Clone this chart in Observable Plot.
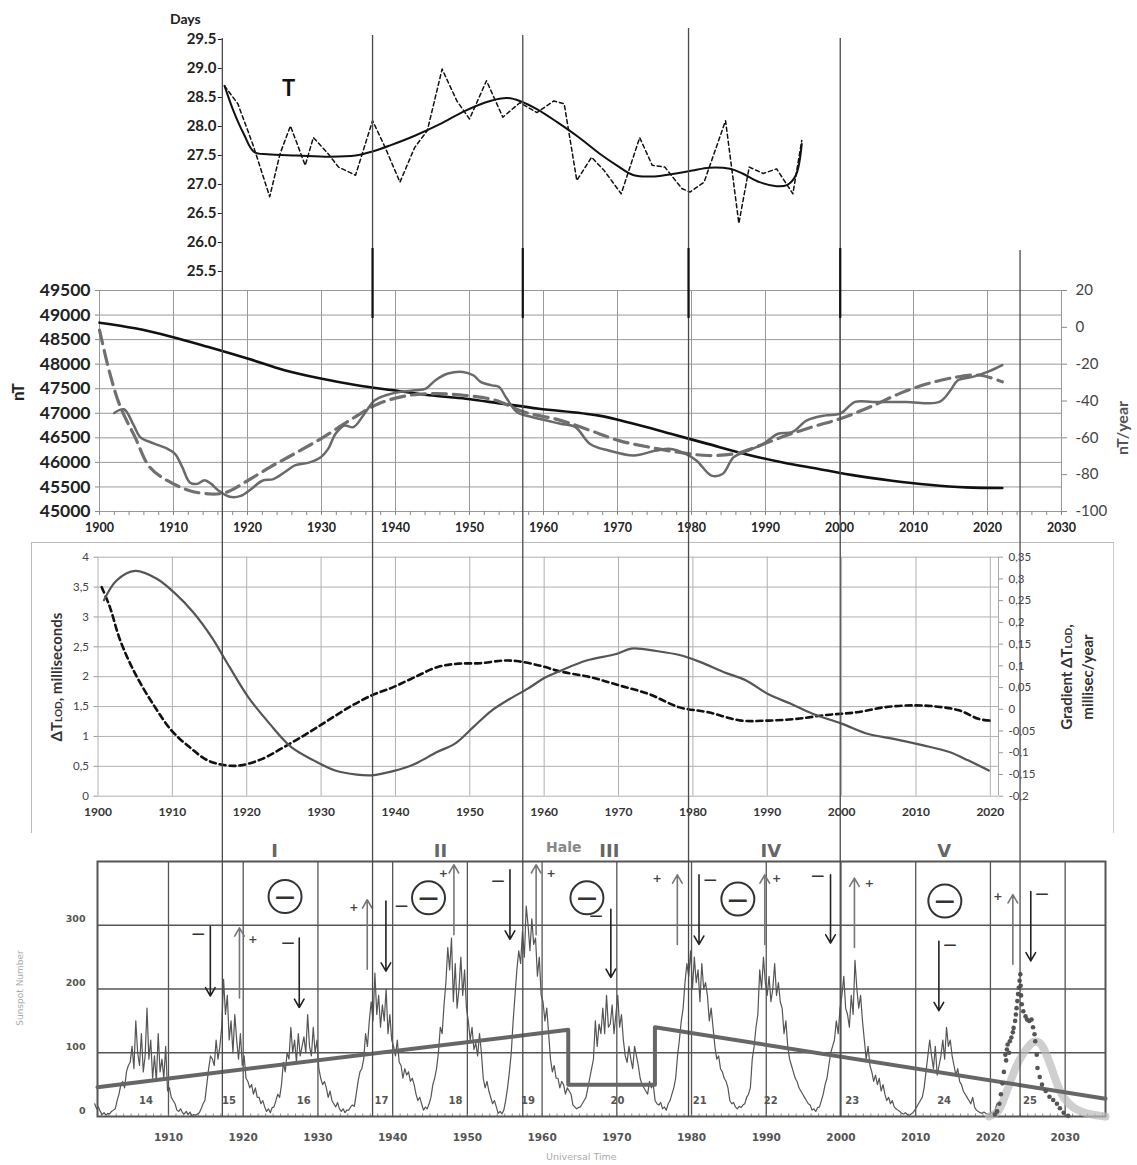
<!DOCTYPE html>
<html><head><meta charset="utf-8">
<script src="https://cdn.jsdelivr.net/npm/d3@7"></script>
<script src="https://cdn.jsdelivr.net/npm/@observablehq/plot@0.6"></script>
<style>
body{margin:0;background:#fff}
#root{position:relative;width:1137px;height:1165px;overflow:hidden;background:#fff}
#root svg{position:absolute;left:0;overflow:visible;background:transparent}
.lbl{position:absolute;white-space:nowrap;line-height:1}
.rot{transform:translate(-50%,-50%) rotate(-90deg);text-align:center}
</style></head><body><div id="root"></div>
<script>
// ---------------- DATA ----------------
// Panel 1: solar rotation period T (days)
const tSmooth = [[1916.9,28.7],[1918.1,28.27],[1919.5,27.87],[1920.9,27.56],[1922.7,27.52],[1926.7,27.5],[1931.2,27.48],[1934.6,27.5],[1936.9,27.57],[1939.2,27.67],[1942.6,27.84],[1946,28.04],[1949.4,28.27],[1952.8,28.44],[1955.1,28.49],[1956.8,28.44],[1959.1,28.3],[1961.9,28.07],[1964.8,27.81],[1967.6,27.53],[1969.9,27.33],[1972.2,27.16],[1975,27.14],[1977.9,27.19],[1980.1,27.24],[1982.4,27.29],[1985.2,27.27],[1986.9,27.19],[1989.2,27.04],[1991.5,26.97],[1992.9,26.99],[1994.1,27.16],[1994.9,27.7]];
const tAnnual = [[1916.9,28.7],[1918.7,28.39],[1920.7,27.7],[1923,26.79],[1924.4,27.53],[1925.8,28.01],[1927.8,27.33],[1928.9,27.81],[1930.9,27.53],[1932.3,27.3],[1934.6,27.16],[1936.9,28.1],[1938.6,27.64],[1940.6,27.04],[1942.6,27.64],[1944.3,27.93],[1946.3,28.99],[1948.3,28.44],[1950,28.13],[1952.3,28.79],[1954.5,28.16],[1956.8,28.41],[1959.1,28.24],[1961.4,28.44],[1962.8,28.39],[1964.5,27.07],[1966.5,27.47],[1968.2,27.24],[1970.5,26.84],[1973,27.81],[1974.7,27.33],[1976.4,27.3],[1978.7,26.93],[1979.8,26.87],[1981.7,27.04],[1984.6,28.1],[1986.4,26.33],[1987.8,27.3],[1989.7,27.19],[1991.5,27.27],[1993.7,26.84],[1994.9,27.76]];
const tTicks = [25.5,26.0,26.5,27.0,27.5,28.0,28.5,29.0,29.5];

// Panel 2: geomagnetic field (nT) and its gradient (nT/year)
const fieldNT = [[1900,48845],[1904.8,48730],[1909.7,48560],[1914.6,48355],[1920,48115],[1925,47877],[1929.9,47707],[1934.8,47570],[1939.7,47468],[1944.6,47366],[1949.5,47297],[1954.4,47195],[1959.4,47093],[1967.3,46957],[1972.2,46786],[1977.2,46582],[1982.2,46377],[1987.2,46173],[1992.2,46002],[1997.2,45866],[2002.2,45730],[2007.1,45627],[2012.1,45545],[2017.1,45491],[2022,45477]];
const gradObs = [[1902,-46.5],[1903.3,-44.5],[1904.6,-53],[1905.5,-59.6],[1907.3,-63],[1909.2,-66],[1910.2,-68.7],[1911.2,-76],[1912.2,-84.2],[1913.2,-85],[1914.2,-83],[1915.1,-85],[1916.1,-88.7],[1917.6,-92],[1919.1,-91.5],[1920.5,-87.8],[1922,-83.3],[1923.5,-82.4],[1925,-78.7],[1926.4,-75],[1928.4,-73.3],[1929.9,-70.5],[1930.9,-66],[1931.9,-57.8],[1933.1,-53.3],[1934.3,-54.2],[1935.8,-46.9],[1937.2,-39.6],[1938.7,-36.9],[1940.7,-35],[1942.7,-34.2],[1944.1,-33.3],[1945.4,-28.7],[1947.1,-25.1],[1949.1,-24.2],[1950.5,-26],[1951.5,-29.6],[1953,-31.5],[1954,-32.4],[1954.9,-37.8],[1956.4,-46],[1958.4,-48.7],[1960.3,-50.5],[1962.3,-52.4],[1964.3,-54.2],[1966.3,-63.3],[1968.8,-66.9],[1972.2,-69.6],[1975.2,-66.9],[1977.2,-66],[1979.2,-68.7],[1980.7,-72.4],[1982.7,-80.5],[1984.2,-79.6],[1985.7,-70.5],[1987.7,-66.9],[1989.7,-63.3],[1991.7,-57.8],[1993.6,-56.9],[1995.6,-50.5],[1998.1,-47.8],[2000.1,-46.9],[2002.1,-40.5],[2004.5,-40.5],[2009,-40.5],[2013.5,-40.5],[2015,-34.2],[2016,-28.7],[2018,-26.9],[2020,-24.2],[2022,-20.5]];
const gradFit = [[1900,-1.5],[1901.4,-25],[1902.8,-43],[1904.8,-59.6],[1906.8,-76],[1909.2,-83.3],[1912.2,-88.7],[1915.1,-90.5],[1917.1,-89.6],[1920,-83.3],[1923,-76],[1925.9,-69.6],[1929.9,-60.5],[1933.8,-50.5],[1937.7,-41.5],[1941.7,-37],[1945.6,-36],[1949.5,-37],[1953.5,-39.6],[1957.4,-46],[1962.3,-50.5],[1966.3,-56],[1970.2,-61.5],[1974.2,-65],[1978.2,-67.8],[1982.2,-69.6],[1985.7,-68.7],[1988.7,-65],[1992.2,-59.6],[1996.2,-54.2],[2000.1,-49.6],[2004.1,-43.3],[2008.1,-36],[2012,-30.5],[2016,-26.9],[2019,-26],[2022,-29.6]];
const ntTicks = [45000,45500,46000,46500,47000,47500,48000,48500,49000,49500];
const ntYearTicks = [-100,-80,-60,-40,-20,0,20];

// Panel 3: length of day
const lod = [[1900.8,3.28],[1902.5,3.61],[1905,3.77],[1907.9,3.64],[1910.4,3.39],[1912.8,3.08],[1915.3,2.66],[1917.7,2.16],[1920.2,1.66],[1923.1,1.21],[1926,0.82],[1929,0.6],[1931.9,0.43],[1934.8,0.36],[1936.8,0.35],[1939.7,0.42],[1942.6,0.54],[1945.6,0.74],[1948,0.88],[1950.5,1.16],[1952.9,1.43],[1955.4,1.63],[1957.8,1.8],[1960.2,1.99],[1962.2,2.1],[1965.7,2.27],[1969.7,2.38],[1971.7,2.47],[1975.1,2.43],[1978.6,2.35],[1981.1,2.24],[1984.1,2.08],[1987.1,1.94],[1990.1,1.71],[1993.1,1.55],[1996.1,1.38],[2000.1,1.21],[2003.6,1.04],[2007,0.96],[2011,0.85],[2014.5,0.74],[2017,0.6],[2019.8,0.43]];
const lodGradient = [[1900.5,0.281],[1901.6,0.235],[1903,0.158],[1905,0.082],[1907.4,0.012],[1909.9,-0.049],[1912.3,-0.087],[1914.8,-0.118],[1917.2,-0.129],[1919.2,-0.129],[1922.1,-0.114],[1925,-0.087],[1928,-0.057],[1930.9,-0.026],[1933.8,0.005],[1936.8,0.032],[1939.7,0.051],[1942.6,0.074],[1945.6,0.097],[1948.5,0.105],[1951.4,0.106],[1954.4,0.112],[1956.3,0.111],[1959.3,0.101],[1962.2,0.087],[1966.2,0.074],[1970.1,0.055],[1974.1,0.035],[1978.1,0.005],[1982.1,-0.007],[1986.5,-0.026],[1990.1,-0.026],[1994,-0.022],[1998,-0.013],[2002,-0.007],[2005.9,0.005],[2009.9,0.009],[2012.9,0.006],[2015.9,-0.003],[2018.4,-0.022],[2019.9,-0.026]];
const lodTicks = [0,0.5,1,1.5,2,2.5,3,3.5,4];
const lodGradTicks = [-0.2,-0.15,-0.1,-0.05,0,0.05,0.1,0.15,0.2,0.25,0.3,0.35];

// Panel 4: sunspot number, quarterly values from 1900.0
const sunspotStart = 1900;
const sunspotQuarterly = [
20,12,15,8, 3,6,2,5, 4,8,10,12, 25,35,50,55, 45,70,80,85, 110,75,150,100, 80,130,70,95, 170,90,120,60, 95,55,130,70, 90,60,110,40,
45,30,25,20, 10,8,12,6, 4,8,3,7, 1,3,2,4, 6,12,20,25, 50,75,95,90, 80,120,90,110, 140,215,160,190, 120,150,100,160, 120,90,130,80,
95,60,55,45, 50,35,45,30, 30,20,25,15, 8,12,6,14, 15,25,35,30, 50,85,70,100, 90,140,100,120, 85,130,95,110, 125,100,160,110, 95,140,100,120,
75,60,50,55, 45,30,40,25, 20,15,22,12, 8,12,6,10, 10,15,18,16, 35,55,70,75, 90,130,110,150, 180,150,225,160, 190,140,175,150, 200,130,160,120,
110,95,120,85, 80,60,75,65, 70,55,60,50, 35,25,30,20, 10,15,12,20, 30,50,60,75, 100,140,130,175, 210,265,230,280, 180,240,170,200, 250,190,230,170,
150,120,140,105, 115,95,130,100, 60,45,55,40, 30,20,25,15, 5,8,4,10, 25,45,70,100, 150,190,230,260, 240,290,250,330, 300,260,310,270, 280,220,250,190,
180,150,170,130, 90,70,80,60, 60,45,55,50, 35,45,40,35, 18,15,12,14, 15,20,25,30, 45,60,75,90, 150,110,145,130, 170,130,190,140, 145,175,130,160,
190,140,160,120, 95,85,110,90, 75,110,95,80, 60,50,45,40, 35,55,45,50, 25,20,18,22, 12,15,10,20, 25,35,45,60, 95,120,150,170, 210,240,220,260,
200,250,210,230, 180,240,200,210, 190,150,170,140, 110,90,95,75, 70,60,55,45, 25,20,22,15, 12,16,14,18, 20,30,35,45, 90,110,140,160, 230,200,250,210,
190,220,180,200, 240,190,210,180, 170,130,150,110, 90,80,70,60, 55,45,40,35, 30,25,20,18, 10,12,8,14, 15,25,35,50, 60,80,100,110, 120,150,130,170,
190,220,170,160, 140,190,160,245, 200,170,190,150, 120,90,110,80, 70,55,65,50, 60,40,50,35, 25,30,20,25, 15,12,10,8, 5,4,6,3, 2,4,6,10,
15,20,25,30, 45,70,95,120, 95,75,110,65, 80,95,120,90, 140,110,120,95, 80,65,75,55, 50,40,35,30, 25,20,30,15, 10,8,6,5, 7,5,4,3,
6,5,10,20
];
const cycle25Dots = [[2020.6,3],[2020.9,8],[2021.2,20],[2021.4,35],[2021.6,52],[2021.8,70],[2022.0,97],[2022.1,88],[2022.2,105],[2022.3,113],[2022.5,100],[2022.6,118],[2022.8,124],[2023.0,132],[2023.1,139],[2023.3,150],[2023.4,160],[2023.5,170],[2023.6,181],[2023.7,192],[2023.8,202],[2023.9,213],[2024.0,223],[2024.05,205],[2024.1,190],[2024.2,176],[2024.4,165],[2024.7,157],[2024.9,152],[2025.2,150],[2025.5,152],[2025.7,140],[2025.9,129],[2026.0,118],[2026.2,97],[2026.3,76],[2026.6,62],[2026.9,50],[2027.4,40],[2027.9,31],[2028.4,26],[2028.9,20],[2029.3,13],[2029.8,6],[2030.4,1]];
const cycle25Forecast = [[2019.8,0],[2021,8],[2022.2,40],[2023.6,82],[2024.9,107],[2025.8,117],[2026.5,116],[2027.1,107],[2028,82],[2028.9,52],[2029.8,30],[2031.1,14],[2032.9,5],[2035.4,0]];
const trendLine = [[1900.5,46],[1963.5,136],[1963.5,50],[1975.1,50],[1975.1,140],[2035.4,28]];
const cycleNumbers = [[1907.0,"14"],[1918.1,"15"],[1928.1,"16"],[1938.5,"17"],[1948.4,"18"],[1958.1,"19"],[1970.1,"20"],[1981.1,"21"],[1990.6,"22"],[2001.5,"23"],[2013.8,"24"],[2025.3,"25"]];
const halePeriods = [[1924.2,"I"],[1946.4,"II"],[1969.0,"III"],[1990.6,"IV"],[2013.8,"V"]];
const haleWord = [[1962.9,"Hale"]];
const minusCircles = [[1925.6,345],[1944.8,343],[1966.0,343],[1986.2,341],[2013.9,338]];
// polarity arrows: [year, from, to]
const downArrows = [[1915.6,298,189],[1927.5,280,171],[1939.1,338,228],[1955.7,387,278],[1969.2,325,218],[1981.0,379,270],[1998.6,379,272],[2013.1,275,166],[2025.4,353,244]];
const upArrows = [[1919.5,186,296],[1936.6,231,340],[1948.2,285,395],[1959.2,285,395],[1978.1,270,379],[1989.8,270,379],[2001.8,265,374],[2023.0,239,348]];
const minusSigns = [[1914.0,286],[1926.0,272],[1941.2,330],[1954.1,369],[1967.2,314],[1982.5,371],[1996.9,377],[2014.6,270],[2026.9,350]];
const plusSigns = [[1921.3,278],[1934.8,328],[1946.8,382],[1961.2,382],[1975.4,374],[1991.4,374],[2003.8,366],[2021.0,345]];
const yearTicks = [1900,1910,1920,1930,1940,1950,1960,1970,1980,1990,2000,2010,2020,2030];
const sunspotTicks = [0,100,200,300];

// Marker years (vertical lines across all panels)
const markerYears = [1916.6,1936.9,1957.2,1979.6,2000.1,2024.4];

// ---------------- LAYOUT ----------------
const W = 1137;
const root = document.getElementById("root");
const X0 = 99, PXY = 7.4; // shared x layout of top panels: 1900 at 99px, 7.4 px/yr
const mRight = W - (X0 + 130*PXY);
function place(svg, top){ svg.style.top = top + "px"; root.appendChild(svg); return svg; }
function html(text, left, top, css){ const d=document.createElement("div"); d.className="lbl"; d.innerHTML=text; d.style.left=left+"px"; d.style.top=top+"px"; Object.assign(d.style, css||{}); root.appendChild(d); return d; }
const pt = a => a.map(([x,y]) => ({x,y}));
const fmtC = v => String(Math.round(v*100)/100).replace(".", ",");

// ---------------- PANEL 1: T ----------------
const tStart = 1916.6;
place(Plot.plot({
  width: W, height: 290, marginTop: 39, marginBottom: 19,
  marginLeft: X0 + (tStart-1900)*PXY, marginRight: mRight,
  style: {fontFamily: "Lato", background: "transparent"},
  x: {domain: [tStart, 2030], axis: null},
  y: {domain: [25.5, 29.5]},
  marks: [
    Plot.axisY(tTicks, {anchor: "left", tickSize: 4, tickPadding: 2, fontSize: 15, fontWeight: "bold", fill: "#222", stroke: "#222", tickFormat: d => d.toFixed(1), label: null}),
    Plot.line(pt(tAnnual), {x: "x", y: "y", stroke: "#111", strokeWidth: 1.5, strokeDasharray: "4,3"}),
    Plot.line(pt(tSmooth), {x: "x", y: "y", stroke: "#111", strokeWidth: 2, curve: "catmull-rom"})
  ]
}), 0);
html("Days", 170, 10, {font: "bold 14px Lato", color: "#222"});
html("T", 282, 74, {font: "bold 22px Lato", color: "#111"});

// ---------------- PANEL 2: nT ----------------
const toNT = r => 45000 + (r + 100) / 120 * 4500;
const fromNT = v => (v - 45000) / 4500 * 120 - 100;
place(Plot.plot({
  width: W, height: 270, marginTop: 10, marginBottom: 39, marginLeft: X0, marginRight: mRight,
  style: {fontFamily: "Lato", background: "transparent"},
  x: {domain: [1900, 2030]},
  y: {domain: [45000, 49500]},
  marks: [
    Plot.gridX(yearTicks, {stroke: "#999", strokeOpacity: 1}),
    Plot.gridY(ntTicks, {stroke: "#999", strokeOpacity: 1}),
    Plot.axisX(d3.range(1900, 2031, 2), {tickSize: 4, tickFormat: () => "", stroke: "#888", label: null}),
    Plot.axisX(yearTicks, {tickSize: 0, tickPadding: 12, fontSize: 12.5, fontWeight: "bold", fill: "#222", tickFormat: d => String(d), label: null}),
    Plot.axisY(ntTicks, {anchor: "left", tickSize: 4, tickPadding: 5, fontSize: 17.5, fontWeight: "bold", fill: "#222", stroke: "#888", tickFormat: d => String(d), label: null}),
    Plot.axisY(ntYearTicks.map(toNT), {anchor: "right", tickSize: 5, tickPadding: 9, fontSize: 15, fill: "#444", stroke: "#888", tickFormat: d => String(Math.round(fromNT(d))), label: null}),
    Plot.text(["nT"], {frameAnchor: "left", rotate: -90, dx: -81, fontSize: 17, fontWeight: "bold", fill: "#222"}),
    Plot.text(["nT/year"], {frameAnchor: "right", rotate: -90, dx: 61, fontSize: 16, fontWeight: "bold", fill: "#555"}),
    Plot.line(pt(fieldNT), {x: "x", y: "y", stroke: "#111", strokeWidth: 2.6, curve: "catmull-rom"}),
    Plot.line(pt(gradFit), {x: "x", y: d => toNT(d.y), stroke: "#707070", strokeWidth: 3.2, strokeDasharray: "14,7", curve: "catmull-rom"}),
    Plot.line(pt(gradObs), {x: "x", y: d => toNT(d.y), stroke: "#6a6a6a", strokeWidth: 2.5, curve: "catmull-rom"})
  ]
}), 280);

// ---------------- PANEL 3: LOD ----------------
const box = document.createElement("div");
Object.assign(box.style, {position: "absolute", left: "31px", top: "542px", width: "1081px", height: "290px", borderTop: "1px solid #bbb", borderLeft: "1px solid #bbb", borderRight: "1px solid #ccc"});
root.appendChild(box);
const gToL = g => (g + 0.2) / 0.55 * 4;
const lToG = v => v / 4 * 0.55 - 0.2;
const lodEnd = 2021.1;
place(Plot.plot({
  width: W, height: 300, marginTop: 21.7, marginBottom: 39.3, marginLeft: 97.5, marginRight: W - 998,
  style: {fontFamily: "Lato", background: "transparent"},
  x: {domain: [1900, lodEnd]},
  y: {domain: [0, 4]},
  marks: [
    Plot.gridX(yearTicks.filter(d => d <= 2020), {stroke: "#b0b0b0", strokeOpacity: 1}),
    Plot.gridY(lodTicks, {stroke: "#b0b0b0", strokeOpacity: 1}),
    Plot.ruleX([lodEnd], {stroke: "#aaa"}),
    Plot.axisX(yearTicks.filter(d => d <= 2020), {tickSize: 0, tickPadding: 11, fontSize: 12, fontWeight: "bold", fill: "#333", tickFormat: d => String(d), label: null}),
    Plot.axisY(lodTicks, {anchor: "left", tickSize: 4, tickPadding: 5, fontSize: 11.5, fill: "#444", stroke: "#999", tickFormat: fmtC, label: null}),
    Plot.axisY(lodGradTicks.map(gToL), {anchor: "right", tickSize: 4, tickPadding: 6, fontSize: 11.5, fill: "#444", stroke: "#999", tickFormat: d => fmtC(lToG(d)), label: null}),
    Plot.line(pt(lodGradient), {x: "x", y: d => gToL(d.y), stroke: "#111", strokeWidth: 2.6, strokeDasharray: "6,4", curve: "catmull-rom"}),
    Plot.line(pt(lod), {x: "x", y: "y", stroke: "#555", strokeWidth: 2.2, curve: "catmull-rom"})
  ]
}), 535);
html("ΔT<span style='font-size:10px'>LOD</span>, milliseconds", 56, 677, {font: "bold 15px Lato", color: "#333"}).classList.add("rot");
html("Gradient ΔT<span style='font-size:10px'>LOD</span>,<br>millisec/year", 1077, 677, {font: "bold 15px Lato", color: "#333", lineHeight: "19px"}).classList.add("rot");

// ---------------- PANEL 4: Sunspots ----------------
const ssFont = "DejaVu Sans";
place(Plot.plot({
  width: W, height: 330, marginTop: 26, marginBottom: 49, marginLeft: 97, marginRight: 32,
  style: {fontFamily: ssFont, background: "transparent"},
  x: {domain: [1900.5, 2035.4]},
  y: {domain: [0, 400]},
  marks: [
    Plot.gridX(yearTicks.filter(d => d >= 1910), {stroke: "#555", strokeOpacity: 1, strokeWidth: 1.3}),
    Plot.gridY([100, 200, 300], {stroke: "#555", strokeOpacity: 1, strokeWidth: 1.3}),
    Plot.ruleX(d3.range(1901, 2036, 1), {y1: 0, y2: 4, stroke: "#777", strokeWidth: 0.8}),
    Plot.frame({stroke: "#555", strokeWidth: 2}),
    Plot.axisX(yearTicks.filter(d => d >= 1910), {tickSize: 0, tickPadding: 17, fontSize: 10.5, fontWeight: "bold", fill: "#555", tickFormat: d => String(d), label: null}),
    Plot.axisY(sunspotTicks, {anchor: "left", tickSize: 0, tickPadding: 12, dy: -6, fontSize: 9.5, fontWeight: "bold", fill: "#555", tickFormat: d => String(d), label: null}),
    Plot.line(sunspotQuarterly, {x: (d, i) => sunspotStart + 0.125 + i * 0.25, y: d => d, stroke: "#555", strokeWidth: 1.2}),
    Plot.line(pt(cycle25Forecast), {x: "x", y: "y", stroke: "#bbb", strokeWidth: 8, strokeOpacity: 0.7, curve: "catmull-rom"}),
    Plot.line(pt(trendLine), {x: "x", y: "y", stroke: "#666", strokeWidth: 4}),
    Plot.dot(pt(cycle25Dots), {x: "x", y: "y", r: 2.3, fill: "#555"}),
    Plot.text(cycleNumbers, {x: d => d[0], y: 25, text: d => d[1], fontSize: 10, fontWeight: "bold", fill: "#555"}),
    Plot.text(halePeriods, {x: d => d[0], y: 416, text: d => d[1], fontSize: 18, fontWeight: "bold", fill: "#666"}),
    Plot.text(haleWord, {x: d => d[0], y: 422, text: d => d[1], fontSize: 14, fontWeight: "bold", fill: "#888"}),
    Plot.dot(minusCircles, {x: d => d[0], y: d => d[1], r: 16.5, stroke: "#333", strokeWidth: 2, fill: "white"}),
    Plot.text(minusCircles, {x: d => d[0], y: d => d[1], text: () => "—", fontSize: 20, fontWeight: "bold", fill: "#333"}),
    Plot.arrow(downArrows, {x1: d => d[0], x2: d => d[0], y1: d => d[1], y2: d => d[2], stroke: "#222", strokeWidth: 1.6, headLength: 9}),
    Plot.arrow(upArrows, {x1: d => d[0], x2: d => d[0], y1: d => d[1], y2: d => d[2], stroke: "#777", strokeWidth: 1.6, headLength: 9}),
    Plot.text(minusSigns, {x: d => d[0], y: d => d[1], text: () => "—", fontSize: 13, fontWeight: "bold", fill: "#333"}),
    Plot.text(plusSigns, {x: d => d[0], y: d => d[1], text: () => "+", fontSize: 11, fontWeight: "bold", fill: "#444"})
  ]
}), 835);
html("Sunspot Number", 20, 988, {font: "9px 'DejaVu Sans'", color: "#aaa"}).classList.add("rot");
html("Universal Time", 546, 1151, {font: "9.5px 'DejaVu Sans'", color: "#aaa"});

// ---------------- OVERLAY: marker lines ----------------
const lineTop = [38, 35, 35, 28, 38, 250], lineBottom = 1116;
const ov = Plot.plot({
  width: W, height: 1165, margin: 0, marginLeft: X0, marginRight: mRight,
  style: {background: "transparent", pointerEvents: "none"},
  x: {domain: [1900, 2030], axis: null},
  y: {domain: [0, 1165], range: [0, 1165], axis: null},
  marks: [
    Plot.ruleX(markerYears, {x: d => d, y1: (d, i) => lineTop[i], y2: lineBottom, stroke: "#4a4a4a", strokeWidth: 1.3}),
    Plot.ruleX(markerYears.slice(1, 5), {x: d => d, y1: 248, y2: 318, stroke: "#111", strokeWidth: 2.2})
  ]
});
place(ov, 0);
</script></body></html>
